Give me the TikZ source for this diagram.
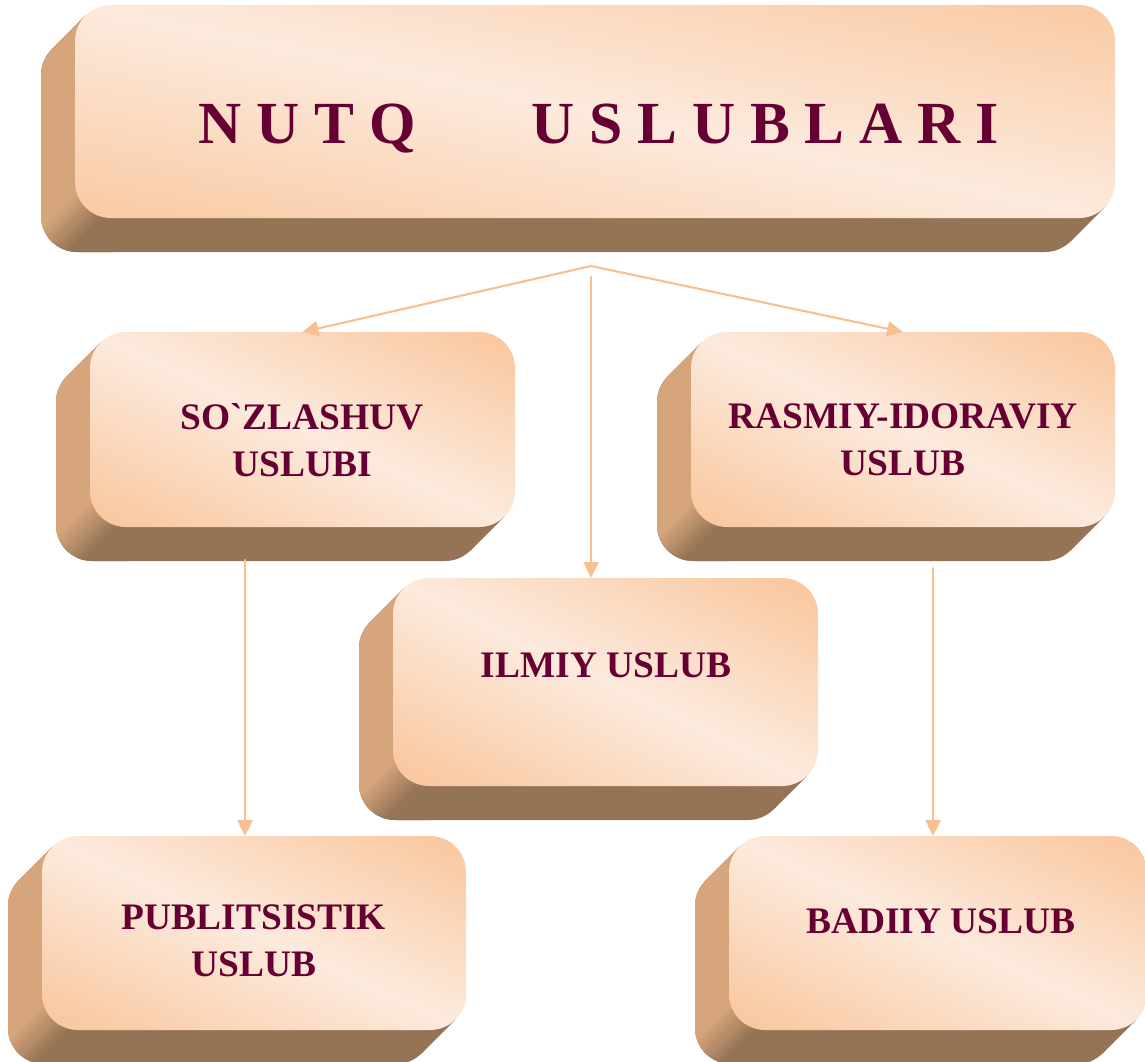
\documentclass[tikz,border=0pt]{standalone}
\usepackage{fontspec}
\setmainfont{Liberation Serif}
\usetikzlibrary{arrows.meta,calc}

\definecolor{peach}{HTML}{F9C092}
\definecolor{cream}{HTML}{FCEADD}
\definecolor{sidetan}{HTML}{D6A57B}
\definecolor{sidebrown}{HTML}{957456}
\definecolor{wine}{HTML}{660033}
\definecolor{linkpeach}{HTML}{F9C08F}

\pgfdeclareverticalshading{blockshade}{100bp}{color(0bp)=(peach); color(12bp)=(peach);
  color(50bp)=(cream); color(88bp)=(peach); color(100bp)=(peach)}
\pgfdeclareverticalshading{seamshade}{100bp}{color(0bp)=(sidebrown); color(40bp)=(sidebrown);
  color(60bp)=(sidetan); color(100bp)=(sidetan)}

\tikzstyle{blockface}=[rectangle,rounded corners=0.72cm,inner sep=0pt,outer sep=0pt,shading=blockshade]
\tikzstyle{lbl}=[text=wine,align=center,font=\bfseries\fontsize{21.3}{26.7}\selectfont]
\tikzstyle{titlelbl}=[text=wine,font=\bfseries\fontsize{34}{40}\selectfont]
\tikzstyle{link}=[draw=linkpeach,line width=1.2pt,line cap=round,
  -{Triangle[length=9pt,width=8.5pt]}]

% one block: name, x0, y0, x1, y1 (front face, in pixels)
\newcommand{\uslub}[5]{%
  \pgfmathsetmacro{\blockangle}{-atan((#5-#3)/(#4-#2))}
  % body behind the face
  \fill[sidebrown,rounded corners=0.72cm] (#2-34,#3+34) rectangle (#4-34,#5+34);
  \fill[sidebrown] (#2+10.5,#3+10.5) -- (#4-10.5,#5-10.5) -- (#4-44.5,#5+23.5) -- (#2-23.5,#3+44.5) -- cycle;
  % left side, lighter
  \begin{scope}
    \clip (#2+#5-#3+60,#3-60) -- (#2-60,#5+60) -- (#2-100,#5+60) -- (#2-100,#3-60) -- cycle;
    \fill[sidetan,rounded corners=0.72cm] (#2-34,#3+34) rectangle (#4-34,#5+34);
    \fill[sidetan] (#2+10.5,#3+10.5) -- (#4-10.5,#5-10.5) -- (#4-44.5,#5+23.5) -- (#2-23.5,#3+44.5) -- cycle;
  \end{scope}
  % soft edge at the lower left corner
  \begin{scope}
    \clip[rounded corners=0.72cm] (#2-34,#3+34) rectangle (#4-34,#5+34);
    \shade[shading=seamshade,shading angle=45]
      (#2-6.5-45,#5+6.5-45) rectangle (#2-6.5+45,#5+6.5+45);
  \end{scope}
  % face
  \node[blockface,shading angle=\blockangle,
    minimum width={(#4-#2)*0.02cm},minimum height={(#5-#3)*0.02cm}]
    (#1) at ({(#2+#4)/2},{(#3+#5)/2}) {};
}

\begin{document}
\begin{tikzpicture}[x=0.02cm,y=-0.02cm]
  \useasboundingbox (0,0) rectangle (1145,1061);
  % Bloecke
  \uslub{nutq}{75}{5}{1115}{218}
  \uslub{soz}{90}{332}{515}{527}
  \uslub{ras}{691}{332}{1115}{527}
  \uslub{ilm}{393}{578}{818}{786}
  \uslub{pub}{42}{836}{466}{1030}
  \uslub{bad}{729}{836}{1147}{1030}
  % Beschriftungen
  \node[titlelbl,anchor=base] (nutq-txt) at (599,143) {N U T Q\hspace{2.3cm}U S L U B L A R I};
  \node[lbl] (soz-txt) at (302,440) {SO\textasciigrave ZLASHUV\\USLUBI};
  \node[lbl] (ras-txt) at (903,440) {RASMIY-IDORAVIY\\USLUB};
  \node[lbl,anchor=base] (ilm-txt) at (606,677) {ILMIY USLUB};
  \node[lbl] (pub-txt) at (254,941) {PUBLITSISTIK\\USLUB};
  \node[lbl,anchor=base] (bad-txt) at (941,933) {BADIIY USLUB};
  % Pfeile
  \coordinate (fork) at (591,266);
  \coordinate (fork2) at (591,277);
  \coordinate (sozbot) at (245,560);
  \coordinate (rasbot) at (933,568);
  \draw[link] (fork) -- (soz.north);
  \draw[link] (fork) -- (ras.north);
  \draw[link] (fork2) -- (fork2 |- ilm.north);
  \draw[link] (sozbot) -- (sozbot |- pub.north);
  \draw[link] (rasbot) -- (rasbot |- bad.north);
\end{tikzpicture}
\end{document}
